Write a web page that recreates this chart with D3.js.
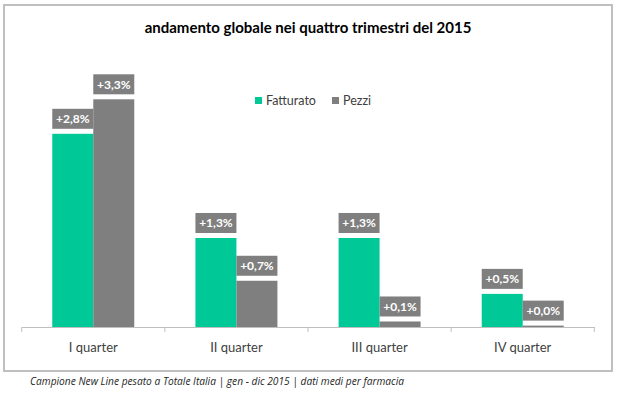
<!DOCTYPE html>
<html>
<head>
<meta charset="utf-8">
<script src="https://cdn.jsdelivr.net/npm/d3@7"></script>
<style>
  body { margin: 0; background: #fff; }
  svg { display: block; }
</style>
</head>
<body>
<div class="chart"></div>
<script>
let width = 617
let height = 393

let title = "andamento globale nei quattro trimestri del 2015"
let footer = "Campione New Line pesato a Totale Italia | gen - dic 2015 | dati medi per farmacia"
let quarters = ["I quarter", "II quarter", "III quarter", "IV quarter"]
let series = ["Fatturato", "Pezzi"]
let fatturato = [2.80, 1.29, 1.29, 0.48]
let pezzi = [3.30, 0.67, 0.08, 0.02]
let colors = ["#00c896", "#7f7f7f"]

let font = "Lato, 'Open Sans', sans-serif"

let data = quarters.map((q, i) => ({ quarter: q, values: [fatturato[i], pezzi[i]] }))

let x0 = d3.scaleBand()
    .domain(quarters)
    .range([21.7, 594.3])

let x1 = d3.scaleBand()
    .domain(series)
    .range([0, 82])

let y = d3.scaleLinear()
    .domain([0, 3.5])
    .range([327, 85.5])

let fmt = v => d3.format("+.1f")(v).replace(".", ",") + "%"

const svg = d3.create("svg")
    .attr("width", width)
    .attr("height", height)
    .attr("font-family", font)

// frame
svg.append("rect")
    .attr("x", 4)
    .attr("y", 5)
    .attr("width", 608)
    .attr("height", 366)
    .attr("fill", "#fff")
    .attr("stroke", "#bfbfbf")
    .attr("stroke-width", 2)

svg.append("text")
    .attr("x", 308)
    .attr("y", 33)
    .attr("text-anchor", "middle")
    .attr("font-weight", "bold")
    .attr("font-size", 15)
    .attr("fill", "#000")
    .text(title)

// bars
const groups = svg.append("g")
    .selectAll("g")
    .data(data)
    .join("g")
    .attr("transform", d => `translate(${x0(d.quarter) + (x0.bandwidth() - 82) / 2},0)`)

const cells = groups.selectAll("g")
    .data(d => d.values.map((v, i) => ({ key: series[i], value: v, i })))
    .join("g")

cells.append("rect")
    .attr("x", d => x1(d.key))
    .attr("y", d => y(d.value))
    .attr("width", x1.bandwidth())
    .attr("height", d => y(0) - y(d.value))
    .attr("fill", d => colors[d.i])

cells.append("rect")
    .attr("x", d => x1(d.key))
    .attr("y", d => y(d.value) - 25)
    .attr("width", x1.bandwidth())
    .attr("height", 20)
    .attr("fill", "#7f7f7f")

cells.append("text")
    .attr("x", d => x1(d.key) + x1.bandwidth() / 2)
    .attr("y", d => y(d.value) - 15)
    .attr("dy", "0.35em")
    .attr("text-anchor", "middle")
    .attr("font-weight", "bold")
    .attr("font-size", 12)
    .attr("fill", "#fff")
    .text(d => fmt(d.value))

// axis
const axis = svg.append("g")
    .attr("transform", `translate(0,${y(0)})`)
    .call(d3.axisBottom(x0).tickSize(0).tickPadding(16))

axis.select(".domain").attr("stroke", "#bfbfbf")
axis.selectAll("text")
    .attr("font-family", font)
    .attr("font-size", 13)
    .attr("fill", "#404040")

let edges = quarters.map(q => x0(q)).concat([x0.range()[1]])
axis.selectAll(".edge")
    .data(edges)
    .join("line")
    .attr("class", "edge")
    .attr("x1", d => d)
    .attr("x2", d => d)
    .attr("y1", 0)
    .attr("y2", 5)
    .attr("stroke", "#bfbfbf")

// legend
const legend = svg.append("g")
    .attr("font-size", 12.5)
    .selectAll("g")
    .data(series)
    .join("g")
    .attr("transform", (d, i) => `translate(${[255, 332][i]},97)`)

legend.append("rect")
    .attr("width", 7)
    .attr("height", 7)
    .attr("fill", (d, i) => colors[i])

legend.append("text")
    .attr("x", 11)
    .attr("y", 4)
    .attr("dy", "0.35em")
    .attr("fill", "#404040")
    .text(d => d)

svg.append("text")
    .attr("x", 30)
    .attr("y", 385)
    .attr("font-family", "'Open Sans', sans-serif")
    .attr("font-style", "italic")
    .attr("font-size", 10.2)
    .attr("fill", "#262626")
    .text(footer)

d3.select(".chart").node().append(svg.node())
</script>
</body>
</html>
